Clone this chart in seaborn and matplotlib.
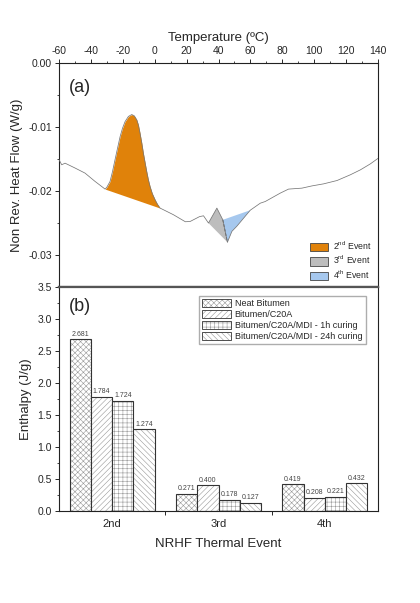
import numpy as np
import pandas as pd
import seaborn as sns
import matplotlib.pyplot as plt
from matplotlib.patches import Patch
from matplotlib.colors import to_rgba

# ---- data ----
temp = [-60, -58.3, -56.2, -50, -43.7, -37.4, -31.1, -30.0, -28.0, -26.5,
        -24.9, -23.3, -21.7, -20.2, -18.6, -16.5, -14.4, -12.8, -11.2,
        -10.2, -9.2, -8.1, -7.1, -6.0, -5.0, -4.0, -2.9, -1.5, 0.25, 1.8,
        3.4, 11.7, 19.2, 22.2, 28.1, 30.6, 33.7, 38.98, 42.7, 45.6, 48.4,
        51.5, 59.9, 66.2, 69.3, 78.7, 83.9, 92.3, 98.6, 105.9, 114.3,
        122.6, 128.9, 135.2, 140]
heat_flow = [-0.0151, -0.0159, -0.01565, -0.0164, -0.0172, -0.0185, -0.0197,
             -0.0194, -0.0185, -0.0170, -0.01513, -0.0133, -0.0115,
             -0.0102, -0.00916, -0.00835, -0.00805, -0.00825, -0.0089,
             -0.0097, -0.01097, -0.0125, -0.01409, -0.0156, -0.01696,
             -0.0182, -0.0193, -0.0204, -0.02137, -0.0221, -0.02267,
             -0.0237, -0.0248, -0.02476, -0.0240, -0.02387, -0.0250,
             -0.02267, -0.0245, -0.0280, -0.0263, -0.0255, -0.0230,
             -0.0219, -0.02164, -0.02033, -0.0197, -0.01955, -0.0192,
             -0.01888, -0.01836, -0.01747, -0.0167, -0.01576, -0.0149]

event2_range = (-31.1, 3.4)
event3_range = (33.7, 45.6)
event4_range = (42.7, 59.9)

events = ['2nd', '3rd', '4th']
samples = ['Neat Bitumen', 'Bitumen/C20A', 'Bitumen/C20A/MDI - 1h curing',
           'Bitumen/C20A/MDI - 24h curing']
enthalpy = {
    'Neat Bitumen': [2.681, 0.271, 0.419],
    'Bitumen/C20A': [1.784, 0.400, 0.208],
    'Bitumen/C20A/MDI - 1h curing': [1.724, 0.178, 0.221],
    'Bitumen/C20A/MDI - 24h curing': [1.274, 0.127, 0.432],
}
hatches = ['xxxxxx', '//////', '++++', '\\\\\\\\\\\\']

# ---- style ----
sns.set_style('ticks')
plt.rcParams['font.family'] = ['Liberation Sans', 'DejaVu Sans']
plt.rcParams['axes.unicode_minus'] = False
plt.rcParams['mathtext.default'] = 'regular'
plt.rcParams['hatch.linewidth'] = 0.4
plt.rcParams['axes.linewidth'] = 0.8
plt.rcParams['axes.edgecolor'] = '#222222'

fig = plt.figure(figsize=(4.2, 6.03), dpi=100)
ax1 = fig.add_axes([0.1405, 0.524, 0.7595, 0.3715])
ax2 = fig.add_axes([0.1405, 0.1526, 0.7595, 0.3715])

# ---- (a) NRHF curve ----
df_curve = pd.DataFrame({'temp': temp, 'hf': heat_flow})
t = np.array(temp)
h = np.array(heat_flow)

# 2nd event: area between curve and straight baseline
m2 = (t >= event2_range[0]) & (t <= event2_range[1])
base2 = np.interp(t[m2], event2_range,
                  [h[t == event2_range[0]][0], h[t == event2_range[1]][0]])
ax1.fill_between(t[m2], h[m2], base2, color='#E0820A', lw=0, zorder=1)

m3 = (t >= event3_range[0]) & (t <= event3_range[1])
ax1.fill(t[m3], h[m3], color='#BDBDBD', lw=0, zorder=1)
m4 = (t >= event4_range[0]) & (t <= event4_range[1])
ax1.fill(t[m4], h[m4], color='#A6C8EE', lw=0, zorder=1)
mm = (t >= event4_range[0]) & (t <= event3_range[1])
ax1.plot(t[mm], h[mm], ls='--', lw=0.6, color='#555555', zorder=2)

sns.lineplot(data=df_curve, x='temp', y='hf', ax=ax1, color='#777777',
             lw=0.55, sort=False, zorder=3)

ax1.set_xlim(-60, 140)
ax1.set_ylim(-0.035, 0.0)
ax1.xaxis.tick_top()
ax1.xaxis.set_label_position('top')
ax1.set_xticks(np.arange(-60, 141, 20))
ax1.set_xticks(np.arange(-60, 141, 10), minor=True)
ax1.set_yticks([0.0, -0.01, -0.02, -0.03])
ax1.set_yticklabels(['0.00', '-0.01', '-0.02', '-0.03'])
ax1.set_yticks(np.arange(-0.035, 0.0001, 0.005), minor=True)
ax1.tick_params(axis='both', which='major', labelsize=7.5, length=3,
                width=0.7, pad=2)
ax1.tick_params(axis='both', which='minor', length=1.8, width=0.6)
ax1.tick_params(axis='x', which='both', top=True, bottom=False)
ax1.set_xlabel('Temperature (\u00baC)', fontsize=9.5, labelpad=4)
ax1.set_ylabel('Non Rev. Heat Flow (W/g)', fontsize=9.5, labelpad=4)
ax1.text(0.03, 0.93, '(a)', transform=ax1.transAxes, fontsize=13, va='top')

ev_handles = [Patch(facecolor='#E0820A', edgecolor='#444444', lw=0.6),
              Patch(facecolor='#BDBDBD', edgecolor='#444444', lw=0.6),
              Patch(facecolor='#A6C8EE', edgecolor='#444444', lw=0.6)]
ax1.legend(ev_handles, ['2$^{nd}$ Event', '3$^{rd}$ Event', '4$^{th}$ Event'],
           loc='lower right', frameon=False, fontsize=6.3,
           handlelength=2.0, handleheight=1.1, borderaxespad=0.3,
           labelspacing=0.25, handletextpad=0.6)

# ---- (b) enthalpy bars ----
rows = []
for s in samples:
    for e, v in zip(events, enthalpy[s]):
        rows.append({'event': e, 'sample': s, 'enthalpy': v})
df_bar = pd.DataFrame(rows)

sns.barplot(data=df_bar, x='event', y='enthalpy', hue='sample',
            hue_order=samples, order=events, palette=['white'] * 4,
            edgecolor='#333333', linewidth=0.8, width=0.8, gap=0,
            legend=False, ax=ax2, zorder=2)

leg_handles = []
for cont, hatch in zip(ax2.containers, hatches):
    for bar in cont:
        bar.set_hatch(hatch)
        bar._hatch_color = to_rgba('#999999')
    ax2.bar_label(cont, fmt='%.3f', fontsize=5, color='#444444', padding=1)
    p = Patch(facecolor='white', edgecolor='#333333', hatch=hatch, lw=0.6)
    p._hatch_color = to_rgba('#999999')
    leg_handles.append(p)

ax2.legend(leg_handles, samples, loc='upper right',
           bbox_to_anchor=(0.975, 0.98), fontsize=6.5, frameon=True,
           fancybox=False, edgecolor='#999999', handlelength=3.2,
           handleheight=1.0, labelspacing=0.2, borderpad=0.35,
           handletextpad=0.4)

ax2.set_xlim(-0.5, 2.5)
ax2.set_ylim(0, 3.5)
ax2.set_yticks(np.arange(0, 3.51, 0.5))
ax2.set_yticklabels(['0.0', '0.5', '1.0', '1.5', '2.0', '2.5', '3.0', '3.5'])
ax2.set_yticks(np.arange(0, 3.51, 0.25), minor=True)
ax2.set_xticks([0.5, 1.5], minor=True)
ax2.tick_params(axis='x', which='major', length=0, labelsize=8, pad=6)
ax2.tick_params(axis='x', which='minor', length=3, width=0.7)
ax2.tick_params(axis='y', which='major', labelsize=7.5, length=3,
                width=0.7, pad=2)
ax2.tick_params(axis='y', which='minor', length=1.8, width=0.6)
ax2.set_xlabel('NRHF Thermal Event', fontsize=9.5, labelpad=6)
ax2.set_ylabel('Enthalpy (J/g)', fontsize=9.5, labelpad=4)
ax2.text(0.03, 0.95, '(b)', transform=ax2.transAxes, fontsize=13, va='top')

for ax in (ax1, ax2):
    for sp in ax.spines.values():
        sp.set_visible(True)
ax1.spines['bottom'].set_linewidth(1.6)
ax1.spines['bottom'].set_color('#555555')
ax2.spines['top'].set_linewidth(1.6)
ax2.spines['top'].set_color('#555555')

fig.savefig('out.png', dpi=100)
